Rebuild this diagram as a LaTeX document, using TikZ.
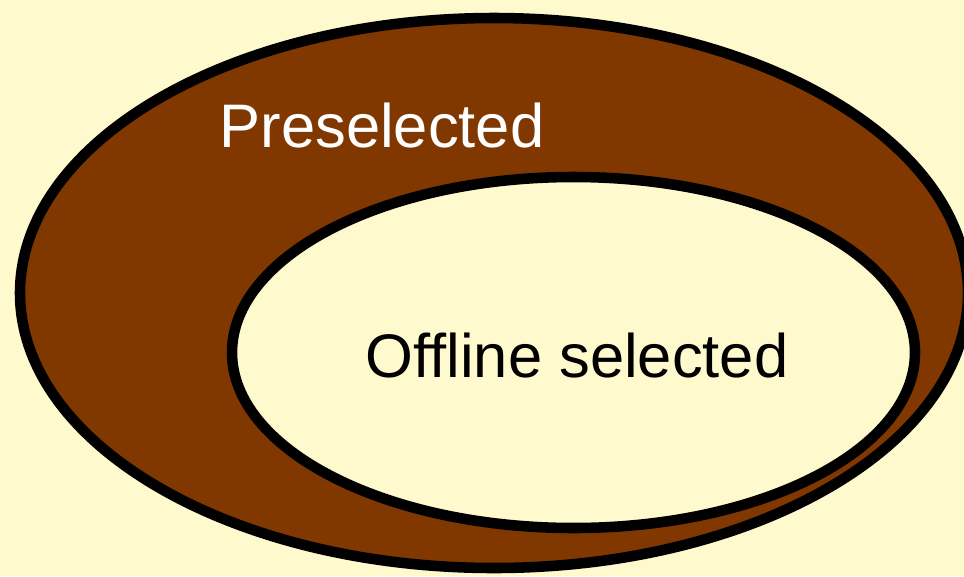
\documentclass[tikz,border=0pt]{standalone}
\usepackage{fontspec}
\setmainfont[Ligatures=NoCommon]{Liberation Sans}

\definecolor{paper}{RGB}{255,250,205}
\definecolor{rust}{RGB}{128,56,0}

\tikzset{
    setline/.style={line width=6pt, draw=black},
    setlabel/.style={anchor=base, font=\fontsize{35pt}{42pt}\selectfont}
}

\begin{document}
\begin{tikzpicture}[x=0.02cm, y=-0.02cm]
        % Paper and frame
        \fill[paper] (0, 0) rectangle (964, 576);
        \useasboundingbox (0, 0) rectangle (964, 576);

        % Draw the outer set
        \draw[setline, fill=rust] (494, 293) ellipse [x radius=474, y radius=275];

        % Draw the inner set on top of it
        \draw[setline, fill=paper] (573.5, 352.5) ellipse [x radius=341.5, y radius=175.5];

        % Labels of the two sets
        \node[setlabel, text=white] (pre) at (382, 147) {Preselected};
        \node[setlabel] (off) at (577, 377) {Offline selected};
    \end{tikzpicture}
\end{document}
